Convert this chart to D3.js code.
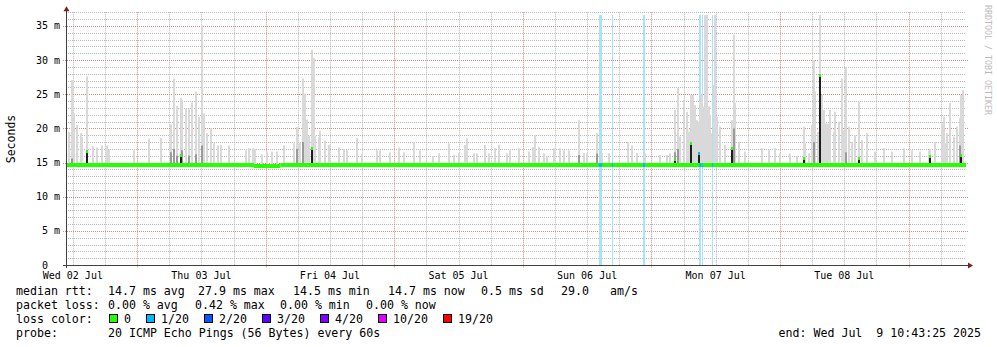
<!DOCTYPE html>
<html>
<head>
<meta charset="utf-8">
<script src="https://cdnjs.cloudflare.com/ajax/libs/d3/7.8.5/d3.min.js"></script>
<style>
  html, body { margin:0; padding:0; background:#fff; }
  svg text { font-family: "DejaVu Sans Mono", monospace; white-space: pre; }
</style>
</head>
<body>
<div id="chart-area"></div>
<script>
/* SmokePing style latency graph, last 7 days */

var W = 997, H = 347;
var plot = {left:66, right:966, top:12.3, bottom:265};

// time window
var startTime = new Date(2025, 6, 2, 10, 43, 25);
var endTime = new Date(2025, 6, 9, 10, 43, 25);

// y axis (milliseconds)
var yMax = 37;
var yMajor = [0, 5, 10, 15, 20, 25, 30, 35];

// median rtt steps: [hours after start, median ms]
var medianSteps = [[0, 14.7], [35.1, 14.45], [40.0, 14.7]];

// smoke columns: [hours after start, max ms, mid-shade top ms, median ms (0 = baseline)]
var smoke = [
  [0.56, 19.5, 0, 0], [1.18, 27.1, 15.6, 0], [1.49, 22.2, 0, 0], [2.05, 20.5, 0, 0],
  [2.74, 19.3, 0, 0], [2.99, 18.7, 0, 0], [3.98, 27.6, 0, 16.6], [5.04, 17.4, 0, 0],
  [5.79, 17.2, 0, 0], [6.72, 17.5, 0, 0], [7.65, 17.5, 0, 0], [8.03, 16.9, 0, 0],
  [12.69, 16.8, 0, 0], [15.49, 18.5, 0, 0], [17.68, 18.6, 0, 0], [19.54, 20.6, 16.5, 0],
  [20.16, 27.3, 17.0, 0], [20.72, 23.3, 16.0, 0], [21.41, 24.4, 0, 16.1], [21.71, 24.2, 16.8, 0],
  [22.34, 22.9, 0, 0], [22.96, 22.8, 16.0, 0], [23.58, 23.8, 0, 0], [24.21, 25.4, 16.2, 0],
  [24.83, 21.7, 0, 0], [25.44, 35.1, 17.5, 0], [25.76, 22.2, 0, 0], [26.38, 19.3, 0, 0],
  [27.01, 20.0, 0, 0], [27.63, 17.8, 0, 0], [28.37, 17.5, 0, 0], [28.93, 17.6, 0, 0],
  [30.43, 17.5, 0, 0], [33.54, 16.8, 0, 0],
  [34.16, 17.1, 0, 0], [34.91, 17.1, 0, 0], [35.28, 17.0, 0, 0], [36.59, 16.2, 0, 0],
  [37.52, 16.6, 0, 0], [38.45, 16.6, 0, 0], [39.39, 16.6, 0, 0], [40.64, 17.5, 0, 0],
  [42.50, 17.8, 0, 0], [43.12, 20.2, 17.0, 0], [43.74, 17.9, 0, 0], [44.19, 27.3, 18.0, 0],
  [44.67, 25.1, 0, 0], [44.99, 21.3, 0, 0], [45.31, 18.9, 0, 0], [45.92, 31.5, 0, 17.1],
  [46.24, 30.3, 0, 0], [46.54, 18.9, 0, 0], [47.17, 18.7, 0, 0], [47.47, 19.6, 0, 0],
  [48.40, 18.2, 0, 0], [49.04, 17.6, 0, 0], [50.91, 17.2, 0, 0], [51.84, 17.0, 0, 0],
  [52.45, 16.8, 0, 0], [54.32, 18.6, 0, 0], [55.25, 16.3, 0, 0], [58.05, 16.8, 0, 0],
  [58.61, 16.8, 0, 0], [60.54, 16.5, 0, 0], [62.10, 17.2, 0, 0], [63.04, 16.5, 0, 0],
  [64.91, 18.0, 0, 0], [66.14, 16.8, 0, 0],
  [68.51, 15.9, 0, 0], [69.57, 16.35, 0, 0], [71.44, 17.8, 0, 0], [72.37, 16.1, 0, 0],
  [73.31, 16.35, 0, 0], [74.48, 17.6, 0, 0], [74.85, 18.55, 0, 0], [76.11, 16.35, 0, 0],
  [76.72, 16.35, 0, 0], [78.27, 17.6, 0, 0], [78.90, 16.35, 0, 0], [80.14, 17.1, 0, 0],
  [80.77, 17.6, 0, 0], [82.32, 16.35, 0, 0], [82.94, 16.8, 0, 0], [84.50, 17.1, 0, 0],
  [86.37, 16.6, 0, 0], [87.17, 17.3, 0, 0], [87.61, 19.0, 0, 0], [88.24, 17.3, 0, 0],
  [89.17, 16.35, 0, 0], [89.79, 15.9, 0, 0], [91.15, 17.1, 0, 0], [92.27, 17.1, 0, 0],
  [92.91, 16.8, 0, 0], [93.89, 16.8, 0, 0], [95.82, 21.2, 16.1, 0], [96.69, 16.35, 0, 0],
  [97.25, 16.35, 0, 0], [99.12, 19.3, 16.3, 0], [100.05, 16.35, 0, 0],
  [101.31, 16.35, 0, 0], [104.91, 18.05, 0, 0], [105.66, 17.5, 0, 0], [106.59, 16.35, 0, 0],
  [108.14, 16.35, 0, 0], [110.94, 16.1, 0, 0], [112.19, 16.1, 0, 0], [112.80, 16.35, 0, 0],
  [113.74, 22.7, 16.5, 15.4], [114.19, 25.9, 17.0, 0], [114.67, 18.8, 0, 0], [115.42, 24.2, 0, 0],
  [115.92, 22.45, 0, 0], [116.24, 19.5, 0, 0], [116.67, 24.9, 0, 17.8], [117.04, 24.9, 0, 0],
  [117.48, 23.4, 0, 0], [117.79, 21.2, 0, 0], [118.11, 21.0, 0, 16.35], [118.35, 24.0, 0, 0],
  [118.72, 25.0, 0, 0], [119.04, 23.2, 0, 0], [119.28, 36.6, 0, 0], [119.66, 36.6, 0, 0],
  [119.97, 23.2, 0, 0], [120.21, 22.0, 0, 0], [120.40, 19.3, 0, 0], [120.91, 26.35, 0, 0],
  [121.21, 36.6, 0, 0], [121.52, 21.7, 0, 0], [122.14, 20.25, 0, 0], [123.07, 17.6, 0, 0],
  [124.32, 21.2, 0, 17.1], [124.64, 33.7, 20.0, 0], [124.94, 23.7, 0, 0], [125.57, 18.05, 0, 0],
  [126.81, 16.6, 0, 0], [129.92, 17.1, 0, 0], [131.18, 16.8, 0, 0], [132.41, 17.1, 0, 0],
  [133.28, 16.35, 0, 0],
  [135.20, 16.35, 0, 0], [136.46, 15.9, 0, 0], [137.76, 20.25, 0, 15.6], [138.00, 17.8, 0, 0],
  [138.64, 16.35, 0, 0], [139.26, 20.5, 0, 0], [139.57, 30.0, 18.0, 0], [139.87, 25.4, 0, 0],
  [140.32, 19.5, 0, 0], [140.69, 36.6, 0, 27.8], [141.12, 24.9, 0, 0], [141.44, 22.7, 0, 0],
  [141.78, 20.7, 0, 0], [142.24, 20.7, 0, 0], [142.67, 22.7, 0, 0], [143.31, 19.5, 0, 0],
  [143.61, 22.45, 0, 0], [144.24, 21.0, 0, 0], [144.86, 27.3, 0, 0], [145.17, 19.8, 0, 0],
  [145.66, 29.0, 16.5, 0], [146.11, 20.25, 0, 0], [146.72, 18.05, 0, 0], [147.34, 19.0, 0, 0],
  [147.98, 23.9, 0, 15.6], [148.59, 18.3, 0, 0], [149.52, 19.3, 0, 0], [151.07, 16.6, 0, 0],
  [152.64, 17.1, 0, 0], [154.19, 16.6, 0, 0], [156.37, 17.1, 0, 0], [157.92, 16.8, 0, 0],
  [159.47, 16.6, 0, 0], [161.04, 16.8, 0, 0], [161.34, 17.0, 0, 15.9], [162.27, 18.05, 0, 0],
  [163.52, 20.7, 0, 0], [163.84, 21.7, 0, 0], [164.14, 17.8, 0, 0], [164.45, 19.3, 0, 0],
  [165.07, 23.7, 0, 0], [165.71, 18.8, 0, 0], [166.32, 20.25, 0, 0], [166.83, 21.5, 17.5, 0],
  [167.07, 24.9, 0, 16.1], [167.44, 25.6, 0, 0]
];

// periods with 1/20 packet loss: [start hour, end hour]
var lossBands = [[99.50, 100.05], [101.98, 102.24], [107.65, 108.08],
                 [118.11, 118.54], [118.67, 118.91], [120.53, 120.78]];
var lossBandTop = 36.6;

// legend
var lossLabels = ["0", "1/20", "2/20", "3/20", "4/20", "10/20", "19/20"];
var lossColors = ["#26ff00", "#00b8ff", "#0059ff", "#5e00ff", "#7e00ff", "#dd00ff", "#ff0000"];
var rttStats = ["14.7 ms avg", "27.9 ms max", "14.5 ms min", "14.7 ms now", "0.5 ms sd", "29.0", "am/s"];
var lossStats = ["0.00 % avg", "0.42 % max", "0.00 % min", "0.00 % now"];
var probeText = "20 ICMP Echo Pings (56 Bytes) every 60s";
var endText = "end: Wed Jul  9 10:43:25 2025";


/* Canvas */
var svg = d3.select("#chart-area").append("svg")
  .attr("width", W)
  .attr("height", H)
  .style("display", "block");

svg.append("rect").attr("width", W).attr("height", H).attr("fill", "#ffffff");

/* Scales */
var x = d3.scaleTime().domain([startTime, endTime]).range([plot.left, plot.right]);
var y = d3.scaleLinear().domain([0, yMax]).range([plot.bottom, plot.top]);
var at = h => new Date(startTime.getTime() + h * 3600e3);
var px = v => Math.round(v) + 0.5;

function medianAt(h) {
  var m = medianSteps[0][1];
  medianSteps.forEach(s => { if (h >= s[0]) m = s[1]; });
  return m;
}
function inLoss(h) {
  return lossBands.some(b => h >= b[0] - 0.1 && h <= b[1] + 0.1);
}

/* Grid */
var grid = svg.append("g");
var minorY = d3.range(1, yMax + 1).filter(v => v % 5 !== 0);
grid.selectAll(".gy").data(minorY).enter().append("line")
  .attr("x1", plot.left).attr("x2", plot.right)
  .attr("y1", d => px(y(d))).attr("y2", d => px(y(d)))
  .attr("stroke", "#b8b8b8").attr("stroke-dasharray", "1,1");

var minorX = d3.timeHour.every(6).range(startTime, endTime).filter(d => d.getHours() !== 0);
grid.selectAll(".gx").data(minorX).enter().append("line")
  .attr("x1", d => px(x(d))).attr("x2", d => px(x(d)))
  .attr("y1", plot.top).attr("y2", plot.bottom)
  .attr("stroke", "#b8b8b8").attr("stroke-dasharray", "1,1");

grid.selectAll(".my").data(yMajor.filter(v => v > 0)).enter().append("line")
  .attr("x1", plot.left - 3).attr("x2", plot.right + 3)
  .attr("y1", d => px(y(d))).attr("y2", d => px(y(d)))
  .attr("stroke", "#e08585").attr("stroke-dasharray", "1,1");

var majorX = d3.timeDay.range(startTime, endTime);
grid.selectAll(".mx").data(majorX).enter().append("line")
  .attr("x1", d => px(x(d))).attr("x2", d => px(x(d)))
  .attr("y1", plot.top).attr("y2", plot.bottom + 3)
  .attr("stroke", "#e08585").attr("stroke-dasharray", "1,1");

/* Loss periods */
var marks = svg.append("g");
marks.selectAll(".loss").data(lossBands).enter().append("rect")
  .attr("x", d => Math.round(x(at(d[0]))))
  .attr("width", d => Math.max(1, Math.round(x(at(d[1])) - x(at(d[0])))))
  .attr("y", y(lossBandTop))
  .attr("height", plot.bottom - y(lossBandTop))
  .attr("fill", "#aae2fa");

/* Smoke */
var colW = 2;
marks.selectAll(".smoke").data(smoke).enter().append("rect")
  .attr("x", d => Math.round(x(at(d[0]))) - 1)
  .attr("width", colW)
  .attr("y", d => y(d[1]))
  .attr("height", d => y(medianAt(d[0])) - y(d[1]))
  .attr("fill", "#d9d9d9");

marks.selectAll(".mid").data(smoke.filter(d => d[2] > 0)).enter().append("rect")
  .attr("x", d => Math.round(x(at(d[0]))) - 1)
  .attr("width", colW)
  .attr("y", d => y(d[2]))
  .attr("height", d => y(medianAt(d[0])) - y(d[2]))
  .attr("fill", "#9a9a9a");

marks.selectAll(".dark").data(smoke.filter(d => d[3] > 0)).enter().append("rect")
  .attr("x", d => Math.round(x(at(d[0]))) - 1)
  .attr("width", colW)
  .attr("y", d => y(d[3]))
  .attr("height", d => y(medianAt(d[0])) - y(d[3]))
  .attr("fill", "#1e1e1e");

/* Median rtt */
var medH = 4;
var medSegs = medianSteps.map((s, i) => [s[0], i < medianSteps.length - 1 ? medianSteps[i + 1][0] : 168, s[1]]);
marks.selectAll(".med").data(medSegs).enter().append("rect")
  .attr("x", d => x(at(d[0])))
  .attr("width", d => x(at(d[1])) - x(at(d[0])))
  .attr("y", d => Math.round(y(d[2]) - medH / 2))
  .attr("height", medH)
  .attr("fill", lossColors[0]);

marks.selectAll(".medloss").data(lossBands).enter().append("rect")
  .attr("x", d => Math.round(x(at(d[0]))))
  .attr("width", d => Math.max(1, Math.round(x(at(d[1])) - x(at(d[0])))))
  .attr("y", d => Math.round(y(medianAt(d[0])) - medH / 2))
  .attr("height", medH)
  .attr("fill", lossColors[1]);

marks.selectAll(".meddot").data(smoke.filter(d => d[3] > 0)).enter().append("rect")
  .attr("x", d => Math.round(x(at(d[0]))) - 1)
  .attr("width", colW)
  .attr("y", d => Math.round(y(d[3]) - 1.5))
  .attr("height", 3)
  .attr("fill", d => inLoss(d[0]) ? lossColors[1] : lossColors[0]);

/* Axes */
var axis = svg.append("g");
axis.append("line")
  .attr("x1", plot.left - 3).attr("x2", plot.right + 2)
  .attr("y1", px(plot.bottom)).attr("y2", px(plot.bottom))
  .attr("stroke", "#404040");
axis.append("line")
  .attr("x1", px(plot.left)).attr("x2", px(plot.left))
  .attr("y1", plot.bottom + 3).attr("y2", plot.top - 2)
  .attr("stroke", "#404040");
// arrows
axis.append("path")
  .attr("d", `M${px(plot.left) - 3},${plot.top - 1} L${px(plot.left) + 3},${plot.top - 1} L${px(plot.left)},${plot.top - 6} Z`)
  .attr("fill", "#7f1f1f");
axis.append("path")
  .attr("d", `M${plot.right + 2},${px(plot.bottom) - 3} L${plot.right + 2},${px(plot.bottom) + 3} L${plot.right + 7},${px(plot.bottom)} Z`)
  .attr("fill", "#7f1f1f");

// y labels
axis.selectAll(".yl").data(yMajor).enter().append("text")
  .attr("x", 60)
  .attr("y", d => y(d) + 3.5)
  .attr("text-anchor", "end")
  .attr("font-size", "10px")
  .attr("fill", "#000")
  .text(d => d === 0 ? "0  " : d + " m");

// x labels (centred on noon)
var fmt = d3.timeFormat("%a %d %b");
var noons = d3.timeDay.range(d3.timeDay.floor(startTime), endTime)
  .map(d => d3.timeHour.offset(d, 12))
  .filter(d => d >= startTime && d <= endTime);
axis.selectAll(".xl").data(noons).enter().append("text")
  .attr("x", d => x(d))
  .attr("y", 279)
  .attr("text-anchor", "middle")
  .attr("font-size", "10px")
  .attr("fill", "#000")
  .text(d => fmt(d));

// y title
svg.append("text")
  .attr("transform", "translate(15,139) rotate(-90)")
  .attr("text-anchor", "middle")
  .attr("font-size", "11.5px")
  .attr("fill", "#000")
  .text("Seconds");

// watermark
svg.append("text")
  .attr("transform", "translate(984.5,5) rotate(90)")
  .attr("font-size", "8.3px")
  .attr("fill", "#bbbbbb")
  .text("RRDTOOL / TOBI OETIKER");

/* Legend */
var legend = svg.append("g").attr("font-size", "11.6px").attr("fill", "#000");
var rows = [295, 309, 323, 337];
var cw = 7;

legend.append("text").attr("x", 16).attr("y", rows[0]).text("median rtt:");
var rttX = [108, 198, 293, 388, 481, 561, 610];
rttStats.forEach((s, i) => legend.append("text").attr("x", rttX[i]).attr("y", rows[0]).text(s));

legend.append("text").attr("x", 16).attr("y", rows[1]).text("packet loss:");
var lossX = [108, 195, 280, 366];
lossStats.forEach((s, i) => legend.append("text").attr("x", lossX[i]).attr("y", rows[1]).text(s));

legend.append("text").attr("x", 16).attr("y", rows[2]).text("loss color:");
var bx = 109;
lossLabels.forEach((lab, i) => {
  legend.append("rect")
    .attr("x", bx + 0.5).attr("y", rows[2] - 8.5)
    .attr("width", 8).attr("height", 8)
    .attr("fill", lossColors[i])
    .attr("stroke", "#000");
  legend.append("text").attr("x", bx + 15).attr("y", rows[2]).text(lab);
  bx += 8 + 7 + lab.length * cw + 15;
});

legend.append("text").attr("x", 16).attr("y", rows[3]).text("probe:");
legend.append("text").attr("x", 108).attr("y", rows[3]).text(probeText);
legend.append("text").attr("x", 981).attr("y", rows[3]).attr("text-anchor", "end").text(endText);
</script>
</body>
</html>
